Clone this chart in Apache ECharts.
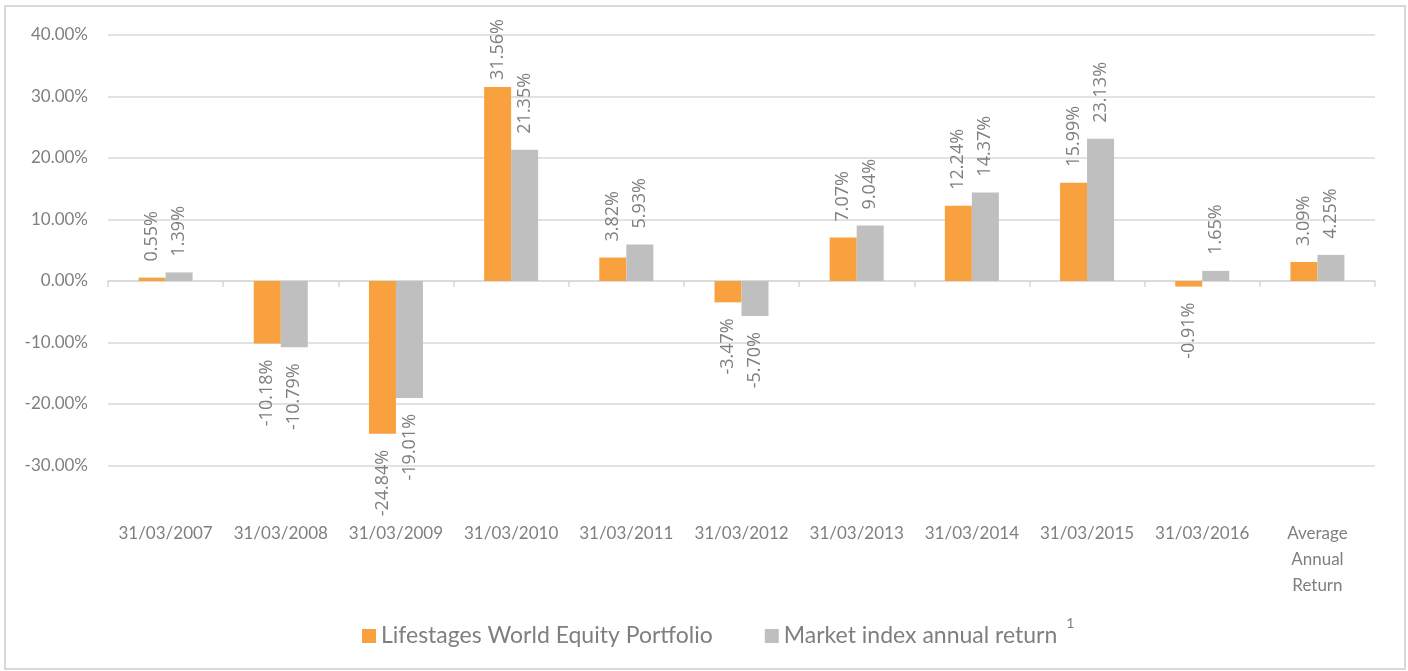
<!DOCTYPE html>
<html>
<head>
<meta charset="utf-8">
<script src="https://cdn.jsdelivr.net/npm/echarts@6/dist/echarts.min.js"></script>
<style>
  html, body { margin: 0; padding: 0; background: #fff; }
  #box { width: 1408px; height: 671px; }
  .frame {
    position: absolute; left: 4px; top: 5px; width: 1398px; height: 661px;
    border: 2px solid #d9d9d9; pointer-events: none;
  }
</style>
</head>
<body>
<div id="box"></div>
<div class="frame"></div>
<script>
const categories = ['31/03/2007', '31/03/2008', '31/03/2009', '31/03/2010', '31/03/2011',
  '31/03/2012', '31/03/2013', '31/03/2014', '31/03/2015', '31/03/2016', 'Average\nAnnual\nReturn']
const portfolio = [0.55, -10.18, -24.84, 31.56, 3.82, -3.47, 7.07, 12.24, 15.99, -0.91, 3.09]
const market = [1.39, -10.79, -19.01, 21.35, 5.93, -5.70, 9.04, 14.37, 23.13, 1.65, 4.25]

const textColor = '#7f7f7f'
const lineColor = '#d9d9d9'

// rotated labels sit beyond the bar end, above for gains, below for losses
function withLabels(values) {
  return values.map(v => ({
    value: v,
    label: {
      position: v < 0 ? 'bottom' : 'top',
      align: v < 0 ? 'right' : 'left',
      distance: v > 30 ? 7 : 16
    }
  }))
}

const barLabel = {
  show: true,
  rotate: 90,
  verticalAlign: 'middle',
  color: textColor,
  fontFamily: 'Open Sans',
  fontSize: 18,
  formatter: p => p.value.toFixed(2) + '%'
}

const chart = echarts.init(document.getElementById('box'))
chart.setOption({
  animation: false,
  grid: { left: 108, right: 33, top: 35, bottom: 205.5 },
  legend: {
    left: 357,
    top: 611,
    itemWidth: 14,
    itemHeight: 14,
    itemGap: 52,
    icon: 'rect',
    textStyle: {
      color: textColor, fontFamily: 'Lato', fontSize: 23,
      rich: { sup: { fontSize: 14, color: textColor, fontFamily: 'Lato', padding: [0, 0, 26, 9] } }
    },
    formatter: name => name === 'Market index annual return' ? name + '{sup|1}' : name
  },
  xAxis: [
    {
      type: 'category',
      position: 'bottom',
      data: categories,
      axisLine: { lineStyle: { color: lineColor, width: 1.5 } },
      axisTick: { show: true, length: 6, lineStyle: { color: lineColor, width: 1.5 } },
      axisLabel: { show: false }
    },
    {
      type: 'category',
      position: 'bottom',
      data: categories,
      axisLine: { show: false, onZero: false },
      axisTick: { show: false },
      axisLabel: {
        margin: 55,
        color: textColor,
        fontFamily: 'Lato',
        fontSize: 17,
        lineHeight: 26,
        interval: 0
      }
    }
  ],
  yAxis: {
    type: 'value',
    min: -30,
    max: 40,
    interval: 10,
    axisLine: { show: false },
    axisTick: { show: false },
    splitLine: { lineStyle: { color: lineColor, width: 1.5 } },
    axisLabel: {
      margin: 20,
      color: textColor,
      fontFamily: 'Lato',
      fontSize: 17,
      formatter: v => v.toFixed(2) + '%'
    }
  },
  series: [
    {
      name: 'Lifestages World Equity Portfolio',
      type: 'bar',
      xAxisIndex: 0,
      barWidth: 27,
      barGap: '0%',
      itemStyle: { color: '#f8a13e' },
      label: barLabel,
      data: withLabels(portfolio)
    },
    {
      name: 'Market index annual return',
      type: 'bar',
      xAxisIndex: 0,
      barWidth: 27,
      barGap: '0%',
      itemStyle: { color: '#bfbfbf' },
      label: barLabel,
      data: withLabels(market)
    }
  ]
})
</script>
</body>
</html>
